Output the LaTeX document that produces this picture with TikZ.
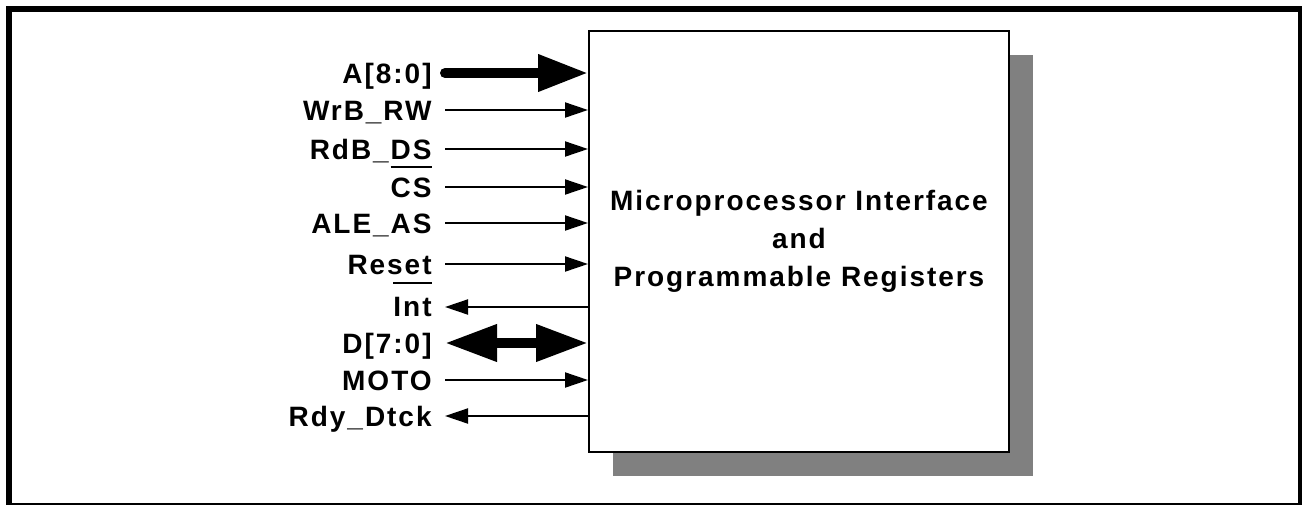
\documentclass[tikz,border=0pt]{standalone}
\usepackage{fontspec}
\setmainfont{Liberation Sans}[LetterSpace=7]
\usepackage{tikz}
\usetikzlibrary{arrows.meta,shadows}

% overline for active-low signal names
\newcommand{\barsig}[2][4.5pt]{\setbox0\hbox{#2}\rlap{\rule[\dimexpr\ht0+#1\relax]{\wd0}{1pt}}\box0}

\tikzset{
  sig/.style={line width=1pt,-{Triangle[length=11.5pt,width=7.5pt]}},
  bus/.style={line width=5pt,-{Triangle[length=25pt,width=17.5pt]}},
  pin/.style={anchor=base east,inner sep=0pt,font=\fontsize{14}{17}\selectfont\bfseries}
}

\begin{document}
\begin{tikzpicture}[x=0.5pt,y=-0.5pt]
        \useasboundingbox (0,0) rectangle (1302,504);
        \draw[line width=3pt] (9,9) rectangle (1301,506);
        \node[draw,line width=1pt,fill=white,minimum width=210pt,minimum height=210.5pt,inner sep=0pt,
              drop shadow={shadow xshift=12pt,shadow yshift=-12pt,fill=black!50,opacity=1},
              align=center,font=\fontsize{14}{19}\selectfont\bfseries] (mpu) at (799,241.5)
              {Microprocessor Interface\\and\\Programmable Registers};
        % signal names
        \node[pin] (lA) at (432,83) {A[8:0]};
        \node[pin] (lWr) at (432,120) {WrB\_RW};
        \node[pin] (lRd) at (432,159) {RdB\_DS};
        \node[pin] (lCs) at (432,197) {\barsig{CS}};
        \node[pin] (lAle) at (432,233) {ALE\_AS};
        \node[pin] (lRst) at (432,274) {Reset};
        \node[pin] (lInt) at (432,316) {\barsig[6.5pt]{Int}};
        \node[pin] (lD) at (432,353) {D[7:0]};
        \node[pin] (lMoto) at (432,390) {MOTO};
        \node[pin] (lRdy) at (432,426) {Rdy\_Dtck};
        % line ends
        \coordinate (sA) at (445,73);
        \coordinate (sWr) at (445,110);
        \coordinate (sRd) at (445,149);
        \coordinate (sCs) at (445,187);
        \coordinate (sAle) at (445,223);
        \coordinate (sRst) at (445,264);
        \coordinate (sInt) at (445,307);
        \coordinate (sD) at (445,343);
        \coordinate (sMoto) at (445,380);
        \coordinate (sRdy) at (445,416);
        \draw[bus,line cap=round] (sA) -- (mpu.west |- sA);
        \draw[sig] (sWr) -- (mpu.west |- sWr);
        \draw[sig] (sRd) -- (mpu.west |- sRd);
        \draw[sig] (sCs) -- (mpu.west |- sCs);
        \draw[sig] (sAle) -- (mpu.west |- sAle);
        \draw[sig] (sRst) -- (mpu.west |- sRst);
        \draw[sig] (mpu.west |- sInt) -- (sInt);
        \draw[bus,{Triangle[length=26pt,width=17.5pt]}-{Triangle[length=26pt,width=17.5pt]}] (sD) -- (mpu.west |- sD);
        \draw[sig] (sMoto) -- (mpu.west |- sMoto);
        \draw[sig] (mpu.west |- sRdy) -- (sRdy);
    \end{tikzpicture}
\end{document}
